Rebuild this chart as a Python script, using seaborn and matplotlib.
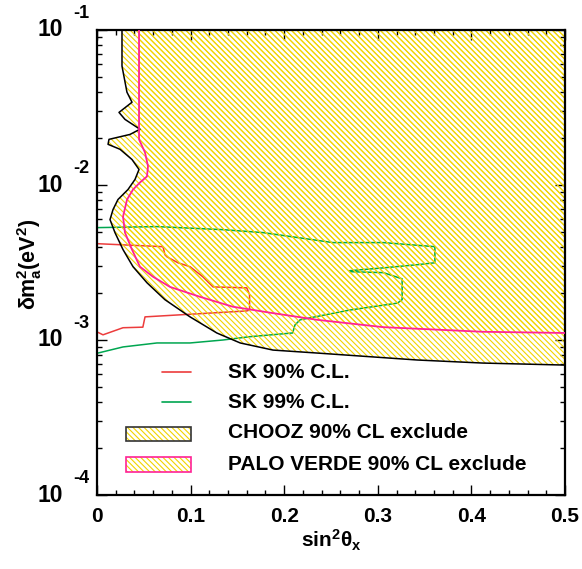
import numpy as np
import matplotlib
matplotlib.use("Agg")
import matplotlib.pyplot as plt
import seaborn as sns
from matplotlib.patches import Rectangle
from matplotlib.lines import Line2D
from matplotlib.ticker import MultipleLocator, LogLocator, NullFormatter

# CHOOZ 90% CL exclusion boundary (sin^2, dm^2)
chooz_x = [0.0267, 0.0267, 0.032, 0.0374, 0.0235, 0.0299, 0.0459, 0.0353, 0.0128, 0.0118,
           0.0246, 0.0374, 0.0449, 0.0406, 0.0331, 0.0224, 0.0171, 0.0139, 0.0192, 0.0278,
           0.0385, 0.0534, 0.0726, 0.0994, 0.128, 0.153, 0.188, 0.235, 0.342, 0.412, 0.5]
chooz_y = [0.1, 0.0585, 0.0397, 0.0342, 0.0294, 0.0265, 0.0229, 0.0212, 0.0197, 0.0183,
           0.0170, 0.0146, 0.0126, 0.01086, 0.00935, 0.00806, 0.00694, 0.00598, 0.00493, 0.00383,
           0.00297, 0.00234, 0.00182, 0.00141, 0.00111, 0.000957, 0.000861, 0.000824, 0.000743,
           0.000710, 0.000689]

# PALO VERDE 90% CL exclusion boundary
palo_x = [0.0449, 0.0449, 0.0513, 0.0545, 0.0534, 0.0459, 0.0385, 0.0321, 0.0278, 0.0299,
          0.0374, 0.0459, 0.0598, 0.078, 0.110, 0.145, 0.185, 0.235, 0.306, 0.412, 0.5]
palo_y = [0.1, 0.0197, 0.0162, 0.0132, 0.01136, 0.01038, 0.00935, 0.00806, 0.00625, 0.00493,
          0.00383, 0.00297, 0.00256, 0.00220, 0.00190, 0.00164, 0.00150, 0.00135, 0.00121,
          0.00113, 0.00111]

# SK 90% C.L. contour
sk90_x = [0.0011, 0.0705, 0.0726, 0.0748, 0.0865, 0.0994, 0.113, 0.124, 0.160, 0.163,
          0.163, 0.160, 0.0513, 0.049, 0.0278, 0.0064, 0.0011]
sk90_y = [0.00418, 0.00400, 0.00355, 0.00344, 0.00315, 0.00297, 0.00256, 0.00220, 0.00217,
          0.00196, 0.00156, 0.00154, 0.00141, 0.00121, 0.00120, 0.00108, 0.00112]

# SK 99% C.L. contour
sk99_x = [0.0011, 0.0641, 0.1346, 0.1774, 0.252, 0.306, 0.361, 0.361, 0.342, 0.306, 0.270,
          0.270, 0.306, 0.326, 0.326, 0.321, 0.270, 0.217, 0.2115, 0.209, 0.163, 0.1346,
          0.0994, 0.0641, 0.0278, 0.0011]
sk99_y = [0.00531, 0.00539, 0.00515, 0.00493, 0.00425, 0.00425, 0.00400, 0.00315, 0.00306,
          0.00292, 0.00280, 0.00276, 0.00272, 0.00248, 0.00182, 0.00173, 0.00156, 0.00135,
          0.00125, 0.00111, 0.00105, 0.00100, 0.000957, 0.000957, 0.000902, 0.000824]

xticks = [0, 0.1, 0.2, 0.3, 0.4, 0.5]
xtick_labels = ["0", "0.1", "0.2", "0.3", "0.4", "0.5"]
ydecades = [1e-4, 1e-3, 1e-2, 1e-1]
ydecade_exp = ["-4", "-3", "-2", "-1"]

legend_labels = ["SK 90% C.L.", "SK 99% C.L.", "CHOOZ 90% CL exclude", "PALO VERDE 90% CL exclude"]

red = "#ec3c3c"
green = "#00a650"
magenta = "#ff2296"
yellow = "#f2d400"
hatch = "\\\\\\\\\\\\"

sns.set_theme(style="ticks")
plt.rcParams["font.family"] = ["Liberation Sans", "DejaVu Sans"]
plt.rcParams["font.weight"] = "bold"
plt.rcParams["text.color"] = "black"
plt.rcParams["axes.labelcolor"] = "black"
plt.rcParams["xtick.color"] = "black"
plt.rcParams["ytick.color"] = "black"
plt.rcParams["mathtext.fontset"] = "custom"
plt.rcParams["mathtext.rm"] = "Liberation Sans:bold"
plt.rcParams["mathtext.bf"] = "Liberation Sans:bold"
plt.rcParams["mathtext.it"] = "Liberation Sans:bold"
plt.rcParams["hatch.linewidth"] = 0.8

fig = plt.figure(figsize=(5.82, 5.69), dpi=100)
ax = fig.add_axes([97 / 582, 1 - 495 / 569, 468 / 582, 465 / 569])

# SK contours (under the hatch)
sns.lineplot(x=sk90_x, y=sk90_y, sort=False, estimator=None, color=red, lw=1.1, ax=ax, zorder=1)
sns.lineplot(x=sk99_x, y=sk99_y, sort=False, estimator=None, color=green, lw=1.1, ax=ax, zorder=1)

# hatched exclusion regions
ax.fill(chooz_x + [0.5], chooz_y + [0.1], facecolor="none", edgecolor=yellow,
        hatch=hatch, linewidth=0, zorder=2)
ax.fill(palo_x + [0.5], palo_y + [0.1], facecolor="none", edgecolor=yellow,
        hatch=hatch, linewidth=0, zorder=2)

# region outlines
sns.lineplot(x=chooz_x, y=chooz_y, sort=False, estimator=None, color="black", lw=1.1, ax=ax, zorder=3)
sns.lineplot(x=palo_x, y=palo_y, sort=False, estimator=None, color=magenta, lw=1.3, ax=ax, zorder=3)

ax.set_xlim(0, 0.5)
ax.set_yscale("log")
ax.set_ylim(1e-4, 1e-1)

ax.set_xticks(xticks, labels=xtick_labels)
ax.xaxis.set_minor_locator(MultipleLocator(0.02))
ax.yaxis.set_major_locator(LogLocator(base=10))
ax.yaxis.set_minor_locator(LogLocator(base=10, subs=np.arange(2, 10)))
ax.yaxis.set_major_formatter(NullFormatter())
ax.yaxis.set_minor_formatter(NullFormatter())

ax.tick_params(which="both", direction="in", top=True, right=True, width=1.0, color="black")
ax.tick_params(which="major", length=7.5)
ax.tick_params(which="minor", length=3.8)
ax.tick_params(axis="x", labelsize=15, pad=9, labelcolor="black")
for lab in ax.get_xticklabels():
    lab.set_fontweight("bold")
for sp in ax.spines.values():
    sp.set_linewidth(1.6)
    sp.set_color("black")

# ROOT-style decade labels
ytr = ax.get_yaxis_transform()
for d, e in zip(ydecades, ydecade_exp):
    ax.text(-0.072, d, "10", transform=ytr, ha="right", va="center", fontsize=16.5, fontweight="bold")
    ax.text(-0.05, d * 10 ** (16 / 154.5), e, transform=ytr, ha="left", va="center",
            fontsize=13, fontweight="bold")

ax.set_xlabel("sin$^{\\mathbf{2}}$θ$_{\\mathbf{x}}$", fontsize=15, fontweight="bold", labelpad=1)
fig.text(30 / 582, 1 - 264 / 569, "δm$_{\\mathbf{a}}^{\\mathbf{2}}$(eV$^{\\mathbf{2}}$)",
         rotation=90, ha="center", va="center", fontsize=15.5, fontweight="bold")

# legend drawn by hand
def ax_x(px):
    return (px - 97) / 468

def ax_y(py):
    return (495 - py) / 465

for py, c in [(372, red), (402, green)]:
    ax.add_line(Line2D([ax_x(162), ax_x(191)], [ax_y(py), ax_y(py)], transform=ax.transAxes,
                       color=c, lw=1.2, zorder=4))
for (top, bot), ec in [((427, 441), "#333333"), ((457, 472), magenta)]:
    ax.add_patch(Rectangle((ax_x(126), ax_y(bot)), ax_x(191) - ax_x(126), ax_y(top) - ax_y(bot),
                           transform=ax.transAxes, facecolor="none", edgecolor=yellow,
                           hatch=hatch, linewidth=0, zorder=4))
    ax.add_patch(Rectangle((ax_x(126), ax_y(bot)), ax_x(191) - ax_x(126), ax_y(top) - ax_y(bot),
                           transform=ax.transAxes, facecolor="none", edgecolor=ec,
                           linewidth=1.2, zorder=5))
for py, lab in zip([373, 403, 433, 465], legend_labels):
    ax.text(ax_x(228), ax_y(py), lab, transform=ax.transAxes, ha="left", va="center",
            fontsize=15, fontweight="bold", zorder=5)

fig.savefig("out.png", dpi=100)
